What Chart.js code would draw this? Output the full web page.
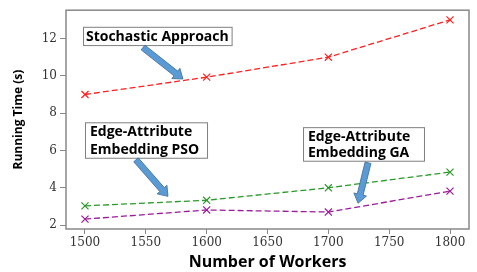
<!DOCTYPE html>
<html>
<head>
<meta charset="utf-8">
<script src="https://cdn.jsdelivr.net/npm/chart.js@4"></script>
<style>
    html, body { margin: 0; padding: 0; background: #fff; }
    #wrap { width: 477px; height: 272px; }
</style>
</head>
<body>
<div id="wrap"><canvas id="grafico"></canvas></div>
<script>
// dados
const workers = [1500, 1600, 1700, 1800];
const stochastic = [9.0, 9.93, 11.0, 13.0];
const pso = [3.03, 3.33, 4.0, 4.84];
const ga = [2.32, 2.81, 2.7, 3.82];
const xTicks = [1500, 1550, 1600, 1650, 1700, 1750, 1800];
const yTicks = [2, 4, 6, 8, 10, 12];

// caixas de texto e setas (em coordenadas do gráfico)
const notes = [
    { lines: ["Stochastic Approach"], box: [1498.4, 12.63, 1620.5, 11.65], from: [1547.7, 11.52], to: [1580.5, 9.83] },
    { lines: ["Edge-Attribute", "Embedding PSO"], box: [1500, 7.51, 1600.3, 5.61], from: [1541.9, 5.5], to: [1568.2, 3.54] },
    { lines: ["Edge-Attribute", "Embedding GA"], box: [1679.2, 7.25, 1778.6, 5.45], from: [1732.6, 5.34], to: [1724.4, 3.17] }
];

const pontos = (ys) => workers.map((x, i) => ({ x: x, y: ys[i] }));

function serie(ys, cor) {
    return {
        data: pontos(ys),
        borderColor: cor,
        backgroundColor: cor,
        borderWidth: 1.3,
        borderDash: [6, 3],
        pointStyle: "crossRot",
        pointRadius: 5,
        pointBorderWidth: 1.2,
        pointBorderColor: cor,
        tension: 0
    };
}

function seta(ctx, x1, y1, x2, y2) {
    const ang = Math.atan2(y2 - y1, x2 - x1);
    const len = Math.hypot(x2 - x1, y2 - y1);
    const meio = 3, cab = 6.5, comp = 9;
    ctx.save();
    ctx.translate(x1, y1);
    ctx.rotate(ang);
    ctx.beginPath();
    ctx.moveTo(0, -meio);
    ctx.lineTo(len - comp, -meio);
    ctx.lineTo(len - comp, -cab);
    ctx.lineTo(len, 0);
    ctx.lineTo(len - comp, cab);
    ctx.lineTo(len - comp, meio);
    ctx.lineTo(0, meio);
    ctx.closePath();
    ctx.fillStyle = "#5b9bd5";
    ctx.fill();
    ctx.strokeStyle = "#41719c";
    ctx.lineWidth = 0.8;
    ctx.stroke();
    ctx.restore();
}

const moldura = {
    id: "moldura",
    afterDatasetsDraw(chart) {
        const { ctx, chartArea: a, scales } = chart;
        ctx.save();
        ctx.strokeStyle = "#888";
        ctx.lineWidth = 1.5;
        ctx.strokeRect(a.left, a.top, a.right - a.left, a.bottom - a.top);

        notes.forEach(n => {
            const x1 = scales.x.getPixelForValue(n.box[0]);
            const y1 = scales.y.getPixelForValue(n.box[1]);
            const x2 = scales.x.getPixelForValue(n.box[2]);
            const y2 = scales.y.getPixelForValue(n.box[3]);
            ctx.fillStyle = "#fff";
            ctx.fillRect(x1, y1, x2 - x1, y2 - y1);
            ctx.strokeStyle = "#7f7f7f";
            ctx.lineWidth = 1;
            ctx.strokeRect(x1 + 0.5, y1 + 0.5, x2 - x1, y2 - y1);
            ctx.fillStyle = "#000";
            ctx.font = "bold 14px 'Open Sans'";
            ctx.textBaseline = "middle";
            const h = (y2 - y1) / n.lines.length;
            n.lines.forEach((t, i) => {
                if (n.lines.length === 1) {
                    ctx.textAlign = "center";
                    ctx.fillText(t, (x1 + x2) / 2, y1 + h / 2 + 1);
                } else {
                    ctx.textAlign = "left";
                    ctx.fillText(t, x1 + 5, y1 + h * i + h / 2 + 1);
                }
            });
            seta(ctx,
                scales.x.getPixelForValue(n.from[0]), scales.y.getPixelForValue(n.from[1]),
                scales.x.getPixelForValue(n.to[0]), scales.y.getPixelForValue(n.to[1]));
        });
        ctx.restore();
    }
};

const fonteTick = { family: "'DejaVu Serif'", size: 12 };

new Chart(document.getElementById("grafico"), {
    type: "line",
    data: {
        datasets: [
            serie(stochastic, "#ff2020"),
            serie(pso, "#2a9a2a"),
            serie(ga, "#9b1b9b")
        ]
    },
    options: {
        responsive: true,
        maintainAspectRatio: false,
        animation: false,
        layout: { padding: { top: 7, right: 8, left: 0, bottom: 0 } },
        plugins: {
            legend: { display: false },
            tooltip: { enabled: false }
        },
        scales: {
            x: {
                type: "linear",
                min: 1484.4,
                max: 1815.6,
                afterBuildTicks: s => { s.ticks = xTicks.map(v => ({ value: v })); },
                afterFit: s => { s.height = 43; },
                grid: { drawOnChartArea: false, tickLength: 5, color: "#888" },
                border: { display: false },
                ticks: { font: fonteTick, color: "#333", padding: 2, maxRotation: 0, callback: v => String(v) },
                title: { display: true, text: "Number of Workers", font: { family: "Open Sans", size: 16, weight: "bold" }, color: "#000", padding: { top: 0, bottom: 0 } }
            },
            y: {
                min: 1.79,
                max: 13.52,
                afterBuildTicks: s => { s.ticks = yTicks.map(v => ({ value: v })); },
                afterFit: s => { s.width = 66; },
                grid: { drawOnChartArea: false, tickLength: 6, color: "#888" },
                border: { display: false },
                ticks: { font: fonteTick, color: "#333", padding: 3, callback: v => String(v) },
                title: { display: true, text: "Running Time (s)", font: { family: "Open Sans", size: 12, weight: "bold" }, color: "#000", padding: { top: 11, bottom: 0 } }
            }
        }
    },
    plugins: [moldura]
});
</script>
</body>
</html>
